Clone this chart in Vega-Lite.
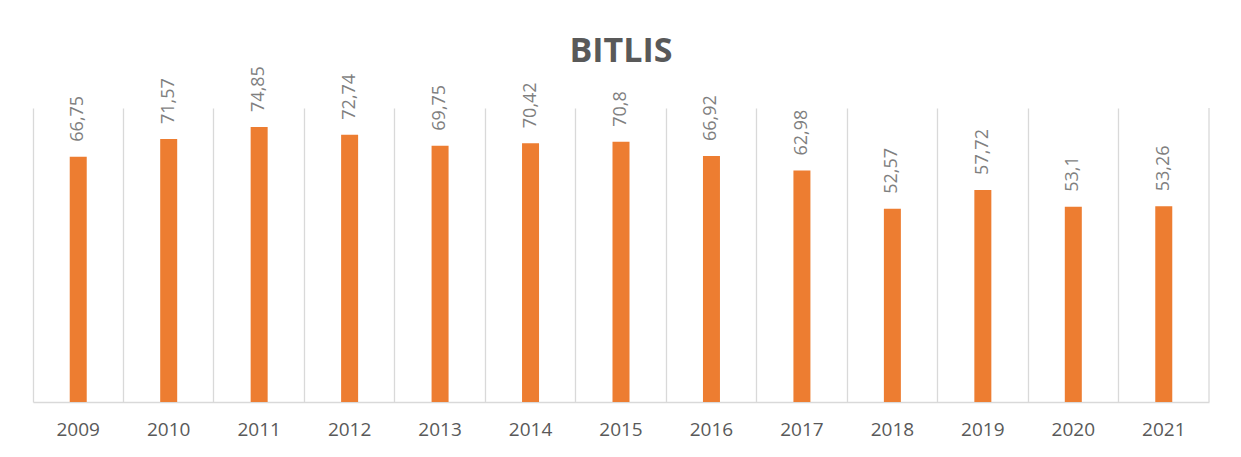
{
  "$schema": "https://vega.github.io/schema/vega-lite/v6.json",
  "width": 1176,
  "height": 294,
  "autosize": {"type": "none"},
  "padding": {"left": 33, "top": 108, "right": 32, "bottom": 55},
  "background": "white",
  "config": {
    "view": {"stroke": null},
    "locale": {"number": {"decimal": ",", "thousands": ".", "grouping": [3], "currency": ["", " €"]}}
  },
  "title": {
    "text": "BITLIS",
    "font": "Open Sans",
    "fontSize": 34,
    "fontWeight": "bold",
    "color": "#595959",
    "anchor": "middle",
    "frame": "group",
    "baseline": "alphabetic",
    "offset": -30
  },
  "data": {
    "values": [
      {"year": "2009", "value": 66.75},
      {"year": "2010", "value": 71.57},
      {"year": "2011", "value": 74.85},
      {"year": "2012", "value": 72.74},
      {"year": "2013", "value": 69.75},
      {"year": "2014", "value": 70.42},
      {"year": "2015", "value": 70.8},
      {"year": "2016", "value": 66.92},
      {"year": "2017", "value": 62.98},
      {"year": "2018", "value": 52.57},
      {"year": "2019", "value": 57.72},
      {"year": "2020", "value": 53.1},
      {"year": "2021", "value": 53.26}
    ]
  },
  "encoding": {
    "x": {
      "field": "year",
      "type": "ordinal",
      "scale": {"paddingInner": 0, "paddingOuter": 0},
      "axis": {
        "title": null,
        "labelAngle": 0,
        "labelFont": "Open Sans",
        "labelFontSize": 19,
        "labelColor": "#595959",
        "labelBaseline": "middle",
        "labelPadding": 27,
        "ticks": false,
        "domainColor": "#d9d9d9",
        "domainWidth": 1.3,
        "grid": true,
        "gridColor": "#d9d9d9",
        "gridWidth": 1.3,
        "bandPosition": 0
      }
    }
  },
  "layer": [
    {
      "transform": [{"filter": "datum.year == '2021'"}],
      "mark": {"type": "rule", "color": "#d9d9d9", "strokeWidth": 1.3},
      "encoding": {
        "x": {"field": "year", "type": "ordinal", "bandPosition": 1}
      }
    },
    {
      "mark": {"type": "bar", "color": "#ED7D31", "size": 17},
      "encoding": {
        "y": {
          "field": "value",
          "type": "quantitative",
          "scale": {"domain": [0, 80], "nice": false, "zero": true},
          "axis": null
        }
      }
    },
    {
      "mark": {
        "type": "text",
        "angle": 270,
        "align": "left",
        "baseline": "middle",
        "dx": 15,
        "font": "Open Sans",
        "fontSize": 18,
        "color": "#7f7f7f"
      },
      "encoding": {
        "y": {"field": "value", "type": "quantitative"},
        "text": {"field": "value", "type": "quantitative", "format": ".2~f"}
      }
    }
  ]
}
